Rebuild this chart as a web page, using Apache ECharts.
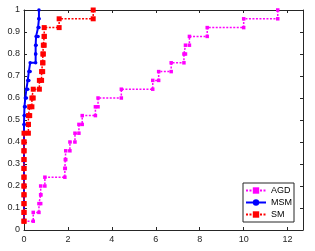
<!DOCTYPE html>
<html><head><meta charset="utf-8">
<script src="https://cdn.jsdelivr.net/npm/echarts@6/dist/echarts.min.js"></script>
<style>html,body{margin:0;padding:0;background:#fff}#c{width:315px;height:251px}</style>
</head><body><div id="c"></div>
<script>
// fraction levels (y) shared by all profiles
var levels = [0.04,0.08,0.12,0.16,0.20,0.24,0.28,0.32,0.36,0.40,0.44,0.48,0.52,0.56,0.60,0.64,0.68,0.72,0.76,0.80,0.84,0.88,0.92,0.96,1.00];
// x where each level is reached
var agdX = [0,0.42,0.68,0.76,0.76,0.95,1.86,1.88,1.9,2.09,2.32,2.5,2.65,3.25,3.37,4.43,5.86,6.13,6.7,7.28,7.35,7.53,8.34,10.0,11.55];
var msmX = [0,0,0,0,0,0,0,0,0,0,0,0,0.01,0.02,0.06,0.11,0.17,0.22,0.28,0.53,0.53,0.55,0.64,0.68,0.68];
var smX  = [0,0,0,0,0,0,0,0,0,0,0,0.2,0.2,0.26,0.36,0.42,0.7,0.8,0.85,0.86,0.88,0.92,0.92,1.6,3.15];
var xTicks = [0,2,4,6,8,10,12];
var yTicks = [0,0.1,0.2,0.3,0.4,0.5,0.6,0.7,0.8,0.9,1];
var names = ['AGD','MSM','SM'];

function stairs(xs){
  var out=[];
  for(var i=0;i<xs.length;i++){
    out.push([xs[i],levels[i]]);
    if(i<xs.length-1) out.push([xs[i+1],levels[i]]);
  }
  return out;
}
var font='Liberation Sans, Arial, sans-serif';
var axisCommon = {
  axisLine:{show:true,onZero:false,lineStyle:{color:'#262626',width:1}},
  axisTick:{show:true,inside:true,length:3,lineStyle:{color:'#262626'}},
  splitLine:{show:false}
};
var chart = echarts.init(document.getElementById('c'),null,{renderer:'canvas'});
chart.setOption({
  animation:false,
  backgroundColor:'#fff',
  grid:{left:24,right:12,top:10,bottom:21,containLabel:false},
  xAxis:[
    Object.assign({type:'value',min:0,max:12.7,interval:2,position:'bottom',
      axisLabel:{show:true,showMaxLabel:false,fontSize:9,color:'#262626',fontFamily:font,margin:5,
        formatter:function(v){return xTicks.indexOf(v)>=0?String(v):'';}}},axisCommon),
    Object.assign({type:'value',min:0,max:12.7,interval:2,position:'top',axisLabel:{show:false}},axisCommon)
  ],
  yAxis:[
    Object.assign({type:'value',min:0,max:1,interval:0.1,position:'left',
      axisLabel:{show:true,fontSize:9,color:'#262626',fontFamily:font,margin:4,
        formatter:function(v){var r=Math.round(v*10)/10;return yTicks.indexOf(r)>=0?String(r):'';}}},axisCommon),
    Object.assign({type:'value',min:0,max:1,interval:0.1,position:'right',axisLabel:{show:false}},axisCommon)
  ],
  legend:{
    orient:'vertical',right:21,bottom:29,
    data:names,
    backgroundColor:'#fff',borderColor:'#262626',borderWidth:1,borderRadius:0,
    padding:[3,2,3,2],itemGap:3,itemWidth:20,itemHeight:8,
    textStyle:{fontSize:9,color:'#000',fontFamily:font}
  },
  series:[
    {name:names[0],type:'line',data:stairs(agdX),color:'#ff00ff',
      lineStyle:{color:'#ff00ff',width:1.5,type:[2,1.5]},
      symbol:'rect',symbolSize:3.5,itemStyle:{color:'#ff00ff'},z:2},
    {name:names[1],type:'line',data:stairs(msmX),color:'#0000ff',
      lineStyle:{color:'#0000ff',width:2,type:'solid'},
      symbol:'circle',symbolSize:3.5,itemStyle:{color:'#0000ff'},z:3},
    {name:names[2],type:'line',data:stairs(smX),color:'#ff0000',
      lineStyle:{color:'#ff0000',width:1.5,type:[2,1.5]},
      symbol:'rect',symbolSize:5,itemStyle:{color:'#ff0000'},z:4}
  ]
});
</script></body></html>
